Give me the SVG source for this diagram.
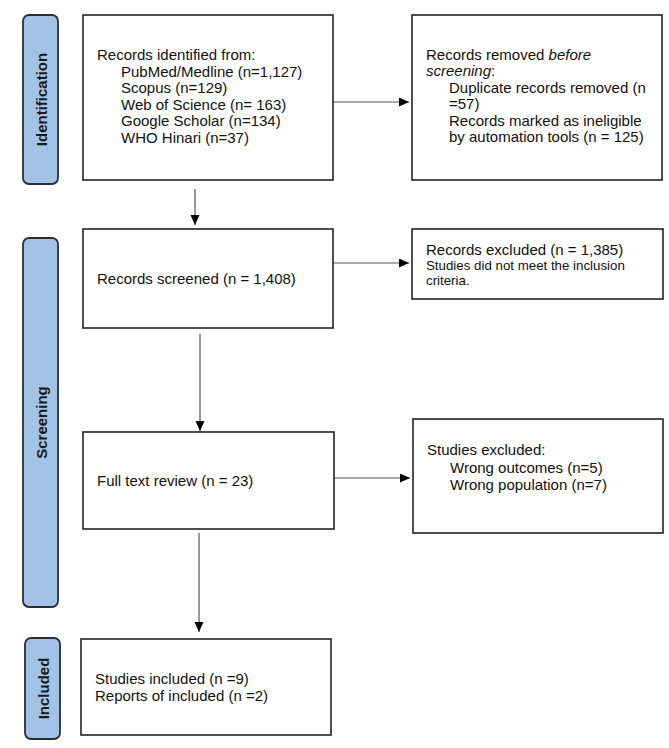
<svg xmlns="http://www.w3.org/2000/svg" width="669" height="748" viewBox="0 0 669 748">
<defs>
<marker id="ah" markerWidth="11" markerHeight="10" refX="10" refY="4.5" orient="auto" markerUnits="userSpaceOnUse">
<path d="M0,0 L10,4.5 L0,9 Z" fill="#000"/>
</marker>
<style>
.side{fill:#a3c3e6;stroke:#2e2e2e;stroke-width:1.8}
.box{fill:#fff;stroke:#222;stroke-width:1.6}
.st{font-family:"Liberation Sans",Arial,sans-serif;font-weight:bold;font-size:15px;fill:#1a1a1a;text-anchor:middle}
.t{font-family:"Liberation Sans",Arial,sans-serif;font-size:15px;fill:#111}
.s{font-family:"Liberation Sans",Arial,sans-serif;font-size:13.3px;fill:#111}
.c{fill:none;stroke:#555;stroke-width:1.2}
</style>
</defs>
<rect width="669" height="748" fill="#fff"/>
<g id="side-identification">
<rect class="side" x="23" y="15" width="35" height="169" rx="6"/>
<text class="st" transform="translate(46.5,99.5) rotate(-90)">Identification</text>
</g>
<g id="side-screening">
<rect class="side" x="23" y="238" width="35" height="369" rx="6"/>
<text class="st" transform="translate(46.5,422.5) rotate(-90)">Screening</text>
</g>
<g id="side-included">
<rect class="side" x="25" y="638" width="35" height="101" rx="6"/>
<text class="st" transform="translate(48.5,688.5) rotate(-90)">Included</text>
</g>
<g id="connectors">
<line class="c" x1="333" y1="102" x2="409" y2="102" marker-end="url(#ah)"/>
<line class="c" x1="195" y1="189" x2="195" y2="225" marker-end="url(#ah)"/>
<line class="c" x1="333" y1="263" x2="409" y2="263" marker-end="url(#ah)"/>
<line class="c" x1="200" y1="334" x2="200" y2="431" marker-end="url(#ah)"/>
<line class="c" x1="334" y1="478" x2="410" y2="478" marker-end="url(#ah)"/>
<line class="c" x1="199" y1="533" x2="199" y2="632" marker-end="url(#ah)"/>
</g>
<g id="records-identified">
<rect class="box" x="83" y="15" width="250" height="165"/>
<text class="t" x="97" y="60">Records identified from:</text>
<text class="t" x="121" y="76.5">PubMed/Medline (n=1,127)</text>
<text class="t" x="121" y="93">Scopus (n=129)</text>
<text class="t" x="121" y="109.5">Web of Science (n= 163)</text>
<text class="t" x="121" y="126">Google Scholar (n=134)</text>
<text class="t" x="121" y="142.5">WHO Hinari (n=37)</text>
</g>
<g id="records-removed">
<rect class="box" x="412" y="15" width="250" height="165"/>
<text class="t" x="426" y="59.5">Records removed <tspan font-style="italic">before</tspan></text>
<text class="t" x="426" y="76"><tspan font-style="italic">screening</tspan>:</text>
<text class="t" x="449" y="92.5">Duplicate records removed (n</text>
<text class="t" x="449" y="109">=57)</text>
<text class="t" x="449" y="125.5">Records marked as ineligible</text>
<text class="t" x="449" y="142">by automation tools (n = 125)</text>
</g>
<g id="records-screened">
<rect class="box" x="83" y="229" width="250" height="99"/>
<text class="t" x="97" y="284">Records screened (n = 1,408)</text>
</g>
<g id="records-excluded">
<rect class="box" x="412" y="229" width="251" height="70"/>
<text class="t" x="426" y="255">Records excluded (n = 1,385)</text>
<text class="s" x="426" y="270">Studies did not meet the inclusion</text>
<text class="s" x="426" y="285">criteria.</text>
</g>
<g id="full-text-review">
<rect class="box" x="83" y="432" width="251" height="97"/>
<text class="t" x="97" y="486">Full text review (n = 23)</text>
</g>
<g id="studies-excluded">
<rect class="box" x="413" y="419" width="250" height="114"/>
<text class="t" x="427" y="455">Studies excluded:</text>
<text class="t" x="450" y="472.5">Wrong outcomes (n=5)</text>
<text class="t" x="450" y="490">Wrong population (n=7)</text>
</g>
<g id="studies-included">
<rect class="box" x="81" y="639" width="250" height="96"/>
<text class="t" x="95" y="684">Studies included (n =9)</text>
<text class="t" x="95" y="701">Reports of included (n =2)</text>
</g>
</svg>
